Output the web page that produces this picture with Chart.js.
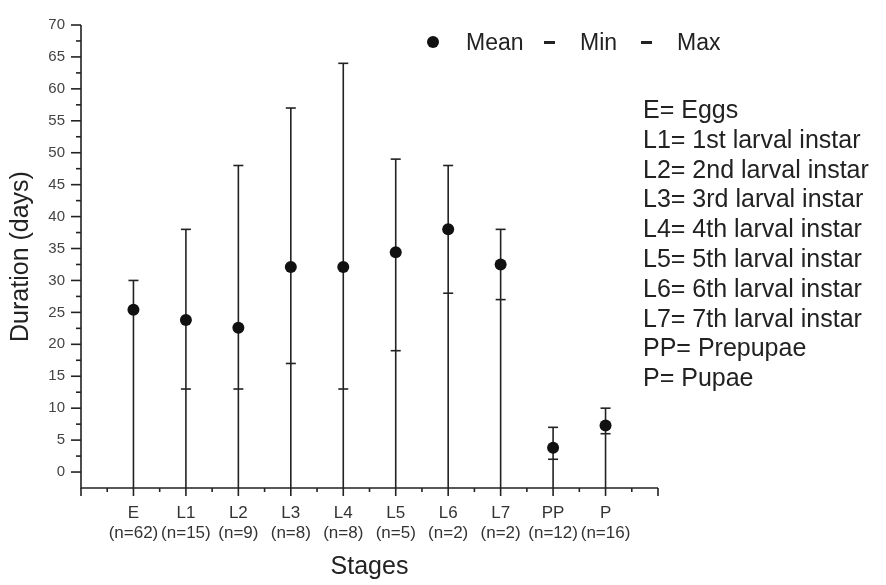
<!DOCTYPE html>
<html lang="en">
<head>
  <meta charset="UTF-8" />
  <title>Duration of development stages</title>
  <script src="https://cdn.jsdelivr.net/npm/chart.js"></script>
  <style>
    body { margin: 0; background: #fff; font-family: "Liberation Sans", Arial, sans-serif; }
    #wrap { position: relative; width: 886px; height: 585px; }
    canvas { position: absolute; left: 0; top: 0; }
    .lg { position: absolute; font-size: 23px; color: #222; line-height: 26px; }
    .dot { position: absolute; width: 12px; height: 12px; border-radius: 50%; background: #111; }
    .dash { position: absolute; width: 11px; height: 2.5px; background: #222; }
    #key { position: absolute; left: 643px; top: 95px; font-size: 25px; line-height: 29.8px; color: #222; }
  </style>
</head>
<body>
  <div id="wrap">
    <canvas id="stageChart" width="886" height="585"></canvas>
    <div class="dot" style="left:427px; top:36px;"></div>
    <div class="lg" style="left:466px; top:29px;">Mean</div>
    <div class="dash" style="left:544px; top:41px;"></div>
    <div class="lg" style="left:580px; top:29px;">Min</div>
    <div class="dash" style="left:641px; top:41px;"></div>
    <div class="lg" style="left:677px; top:29px;">Max</div>
    <div id="key">
      E= Eggs<br>
      L1= 1st larval instar<br>
      L2= 2nd larval instar<br>
      L3= 3rd larval instar<br>
      L4= 4th larval instar<br>
      L5= 5th larval instar<br>
      L6= 6th larval instar<br>
      L7= 7th larval instar<br>
      PP= Prepupae<br>
      P= Pupae
    </div>
  </div>

  <script>
    // stages and values (days)
    const stages = ['E', 'L1', 'L2', 'L3', 'L4', 'L5', 'L6', 'L7', 'PP', 'P'];
    const sampleSizes = ['(n=62)', '(n=15)', '(n=9)', '(n=8)', '(n=8)', '(n=5)', '(n=2)', '(n=2)', '(n=12)', '(n=16)'];
    const meanDays = [25.4, 23.8, 22.6, 32.1, 32.1, 34.4, 38, 32.5, 3.8, 7.3];
    const minDays = [null, 13, 13, 17, 13, 19, 28, 27, 2, 6];
    const maxDays = [30, 38, 48, 57, 64, 49, 48, 38, 7, 10];
    const yTickValues = [0, 5, 10, 15, 20, 25, 30, 35, 40, 45, 50, 55, 60, 65, 70];

    const Y_MIN = -2.5, Y_MAX = 70;
    const X_MIN = 0, X_MAX = stages.length + 1;
    const ink = '#222';

    const toPoints = arr => arr.map((v, i) => ({ x: i + 1, y: v })).filter(p => p.y !== null);

    // axes, tick marks and drop lines drawn with the chart's own scales
    const axisPlugin = {
      id: 'axisPlugin',
      beforeDatasetsDraw(chart) {
        const { ctx, scales: { x, y } } = chart;
        const bottom = y.getPixelForValue(Y_MIN);
        ctx.save();
        ctx.strokeStyle = ink;
        ctx.lineWidth = 1.6;

        // drop lines from max to the axis
        maxDays.forEach((v, i) => {
          const px = x.getPixelForValue(i + 1);
          ctx.beginPath();
          ctx.moveTo(px, y.getPixelForValue(v));
          ctx.lineTo(px, bottom);
          ctx.stroke();
        });

        // axis lines
        const left = x.getPixelForValue(X_MIN);
        const right = x.getPixelForValue(X_MAX);
        ctx.beginPath();
        ctx.moveTo(left, y.getPixelForValue(Y_MAX));
        ctx.lineTo(left, bottom);
        ctx.lineTo(right, bottom);
        ctx.stroke();

        // y ticks: major every 5, minor every 2.5
        for (let v = 0; v <= Y_MAX; v += 2.5) {
          const py = y.getPixelForValue(v);
          const len = v % 5 === 0 ? 10 : 5;
          ctx.beginPath();
          ctx.moveTo(left - len, py);
          ctx.lineTo(left, py);
          ctx.stroke();
        }
        // x ticks: major at stages, minor between
        for (let v = X_MIN; v <= X_MAX; v += 0.5) {
          const px = x.getPixelForValue(v);
          const len = v % 1 === 0 ? 8 : 4;
          ctx.beginPath();
          ctx.moveTo(px, bottom);
          ctx.lineTo(px, bottom + len);
          ctx.stroke();
        }
        ctx.restore();
      }
    };

    Chart.defaults.font.family = '"Liberation Sans", Arial, sans-serif';

    const ctx = document.getElementById('stageChart').getContext('2d');
    new Chart(ctx, {
      type: 'scatter',
      data: {
        datasets: [
          {
            label: 'Mean',
            data: toPoints(meanDays),
            pointStyle: 'circle',
            pointRadius: 6,
            backgroundColor: '#111',
            borderColor: '#111',
            borderWidth: 0
          },
          {
            label: 'Min',
            data: toPoints(minDays),
            pointStyle: 'line',
            pointRadius: 5,
            borderColor: ink,
            borderWidth: 1.6
          },
          {
            label: 'Max',
            data: toPoints(maxDays),
            pointStyle: 'line',
            pointRadius: 5,
            borderColor: ink,
            borderWidth: 1.6
          }
        ]
      },
      options: {
        responsive: false,
        animation: false,
        layout: {
          autoPadding: false,
          padding: { left: 0, right: 228, top: 17, bottom: 0 }
        },
        plugins: {
          legend: { display: false },
          tooltip: { enabled: false }
        },
        scales: {
          x: {
            type: 'linear',
            min: X_MIN,
            max: X_MAX,
            afterFit: s => { s.height = 97; },
            afterBuildTicks: s => { s.ticks = stages.map((_, i) => ({ value: i + 1 })); },
            grid: { display: false, drawTicks: false },
            border: { display: false },
            ticks: {
              autoSkip: false,
              maxRotation: 0,
              padding: 15,
              color: '#333',
              font: { size: 17 },
              callback: v => [stages[v - 1], sampleSizes[v - 1]]
            },
            title: {
              display: true,
              text: 'Stages',
              color: '#222',
              font: { size: 25 },
              padding: { top: 0, bottom: 3 }
            }
          },
          y: {
            min: Y_MIN,
            max: Y_MAX,
            afterFit: s => { s.width = 81; },
            afterBuildTicks: s => { s.ticks = yTickValues.map(v => ({ value: v })); },
            grid: { display: false, drawTicks: false },
            border: { display: false },
            ticks: {
              padding: 16,
              color: '#444',
              font: { size: 15 }
            },
            title: {
              display: true,
              text: 'Duration (days)',
              color: '#222',
              font: { size: 25 },
              padding: { top: 6, bottom: 0 }
            }
          }
        }
      },
      plugins: [axisPlugin]
    });
  </script>
</body>
</html>
